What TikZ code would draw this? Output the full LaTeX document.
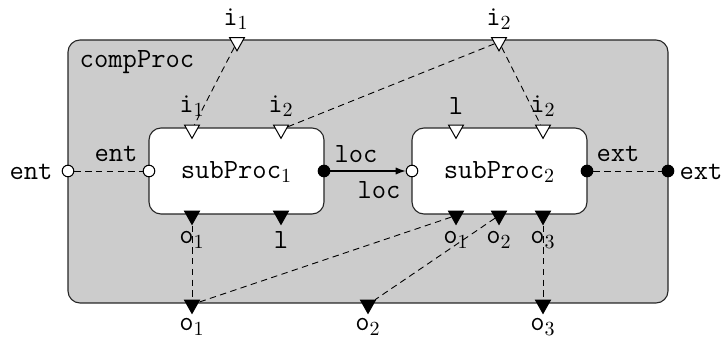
\documentclass[tikz,border=0pt]{standalone}
\usetikzlibrary{shapes.geometric,arrows.meta}
\begin{document}
\begin{tikzpicture}[x=0.5pt,y=-0.5pt,
  lbl/.style={font=\ttfamily\fontsize{13.9}{16}\selectfont, inner sep=0pt},
  outerbox/.style={draw=black!85, fill=black!20, line width=0.55pt, rounded corners=6pt, inner sep=0pt},
  procbox/.style={draw=black!85, fill=white, line width=0.55pt, rounded corners=6pt, inner sep=0pt},
  tri/.style={isosceles triangle, isosceles triangle stretches, shape border rotate=-90,
    draw, line width=0.5pt, inner sep=0pt, minimum width=7.4pt, minimum height=6.6pt},
  inport/.style={tri, fill=white},
  outport/.style={tri, fill=black},
  entport/.style={circle, draw, line width=0.5pt, fill=white, inner sep=0pt, minimum size=5.8pt},
  extport/.style={circle, draw, line width=0.5pt, fill=black, inner sep=0pt, minimum size=5.8pt},
  link/.style={line width=0.45pt, dash pattern=on 3.2pt off 2.2pt},
  flow/.style={line width=0.55pt, -{Latex[length=5pt,width=3.6pt]}}
]
\useasboundingbox (0,0) rectangle (724,342);

% containers
\node[outerbox, minimum width=300pt, minimum height=131.5pt] (comp) at (368,171.5) {};
\node[lbl] (compname) at (137,62) {compProc};
\node[procbox, minimum width=87.5pt, minimum height=43pt] (sub1) at (236.5,171) {};
\node[procbox, minimum width=87.5pt, minimum height=43pt] (sub2) at (499.5,171) {};
\node[lbl] (sub1name) at (236.5,172) {subProc$_1$};
\node[lbl] (sub2name) at (499.5,172) {subProc$_2$};

% entry / exit ports
\node[entport] (entO) at (68,171) {};
\node[entport] (entI) at (149,171) {};
\node[extport] (loc1) at (324,171) {};
\node[entport] (loc2) at (412,171) {};
\node[extport] (ext2) at (587,171) {};
\node[extport] (extO) at (668,171) {};

% input ports
\node[inport] (iO1) at (237,42) {};
\node[inport] (iO2) at (499,42) {};
\node[inport] (s1i1) at (192,129.5) {};
\node[inport] (s1i2) at (281,129.5) {};
\node[inport] (s2l) at (456,129.5) {};
\node[inport] (s2i2) at (543,129.5) {};

% output ports
\node[outport] (s1o1) at (192,215.5) {};
\node[outport] (s1l) at (281,215.5) {};
\node[outport] (s2o1) at (456,215.5) {};
\node[outport] (s2o2) at (499,215.5) {};
\node[outport] (s2o3) at (543,215.5) {};
\node[outport] (oO1) at (192,304.5) {};
\node[outport] (oO2) at (368,304.5) {};
\node[outport] (oO3) at (543,304.5) {};

% port labels
\node[lbl] (LentO) at (31,172) {ent};
\node[lbl] (LentI) at (116,154) {ent};
\node[lbl] (Lloc1) at (356,154) {loc};
\node[lbl] (Lloc2) at (379,190) {loc};
\node[lbl] (Lext2) at (618,154) {ext};
\node[lbl] (LextO) at (701,172) {ext};
\node[lbl] (LiO1) at (236,19) {i$_1$};
\node[lbl] (LiO2) at (499,19) {i$_2$};
\node[lbl] (Ls1i1) at (192,106) {i$_1$};
\node[lbl] (Ls1i2) at (281,106) {i$_2$};
\node[lbl] (Ls2l) at (456,106) {l};
\node[lbl] (Ls2i2) at (543,106) {i$_2$};
\node[lbl] (Ls1o1) at (192,240) {o$_1$};
\node[lbl] (Ls1l) at (281,240) {l};
\node[lbl] (Ls2o1) at (456,240) {o$_1$};
\node[lbl] (Ls2o2) at (499,240) {o$_2$};
\node[lbl] (Ls2o3) at (543,240) {o$_3$};
\node[lbl] (LoO1) at (192,327) {o$_1$};
\node[lbl] (LoO2) at (368,327) {o$_2$};
\node[lbl] (LoO3) at (543,327) {o$_3$};

% connectors
\draw[link] (entO) -- (entI);
\draw[link] (ext2) -- (extO);
\draw[link] (iO1) -- (s1i1);
\draw[link] (iO2) -- (s1i2);
\draw[link] (iO2) -- (s2i2);
\draw[link] (s1o1) -- (oO1);
\draw[link] (s2o1) -- (oO1);
\draw[link] (s2o2) -- (oO2);
\draw[link] (s2o3) -- (oO3);
\draw[flow] (loc1) -- (loc2);
\end{tikzpicture}
\end{document}
